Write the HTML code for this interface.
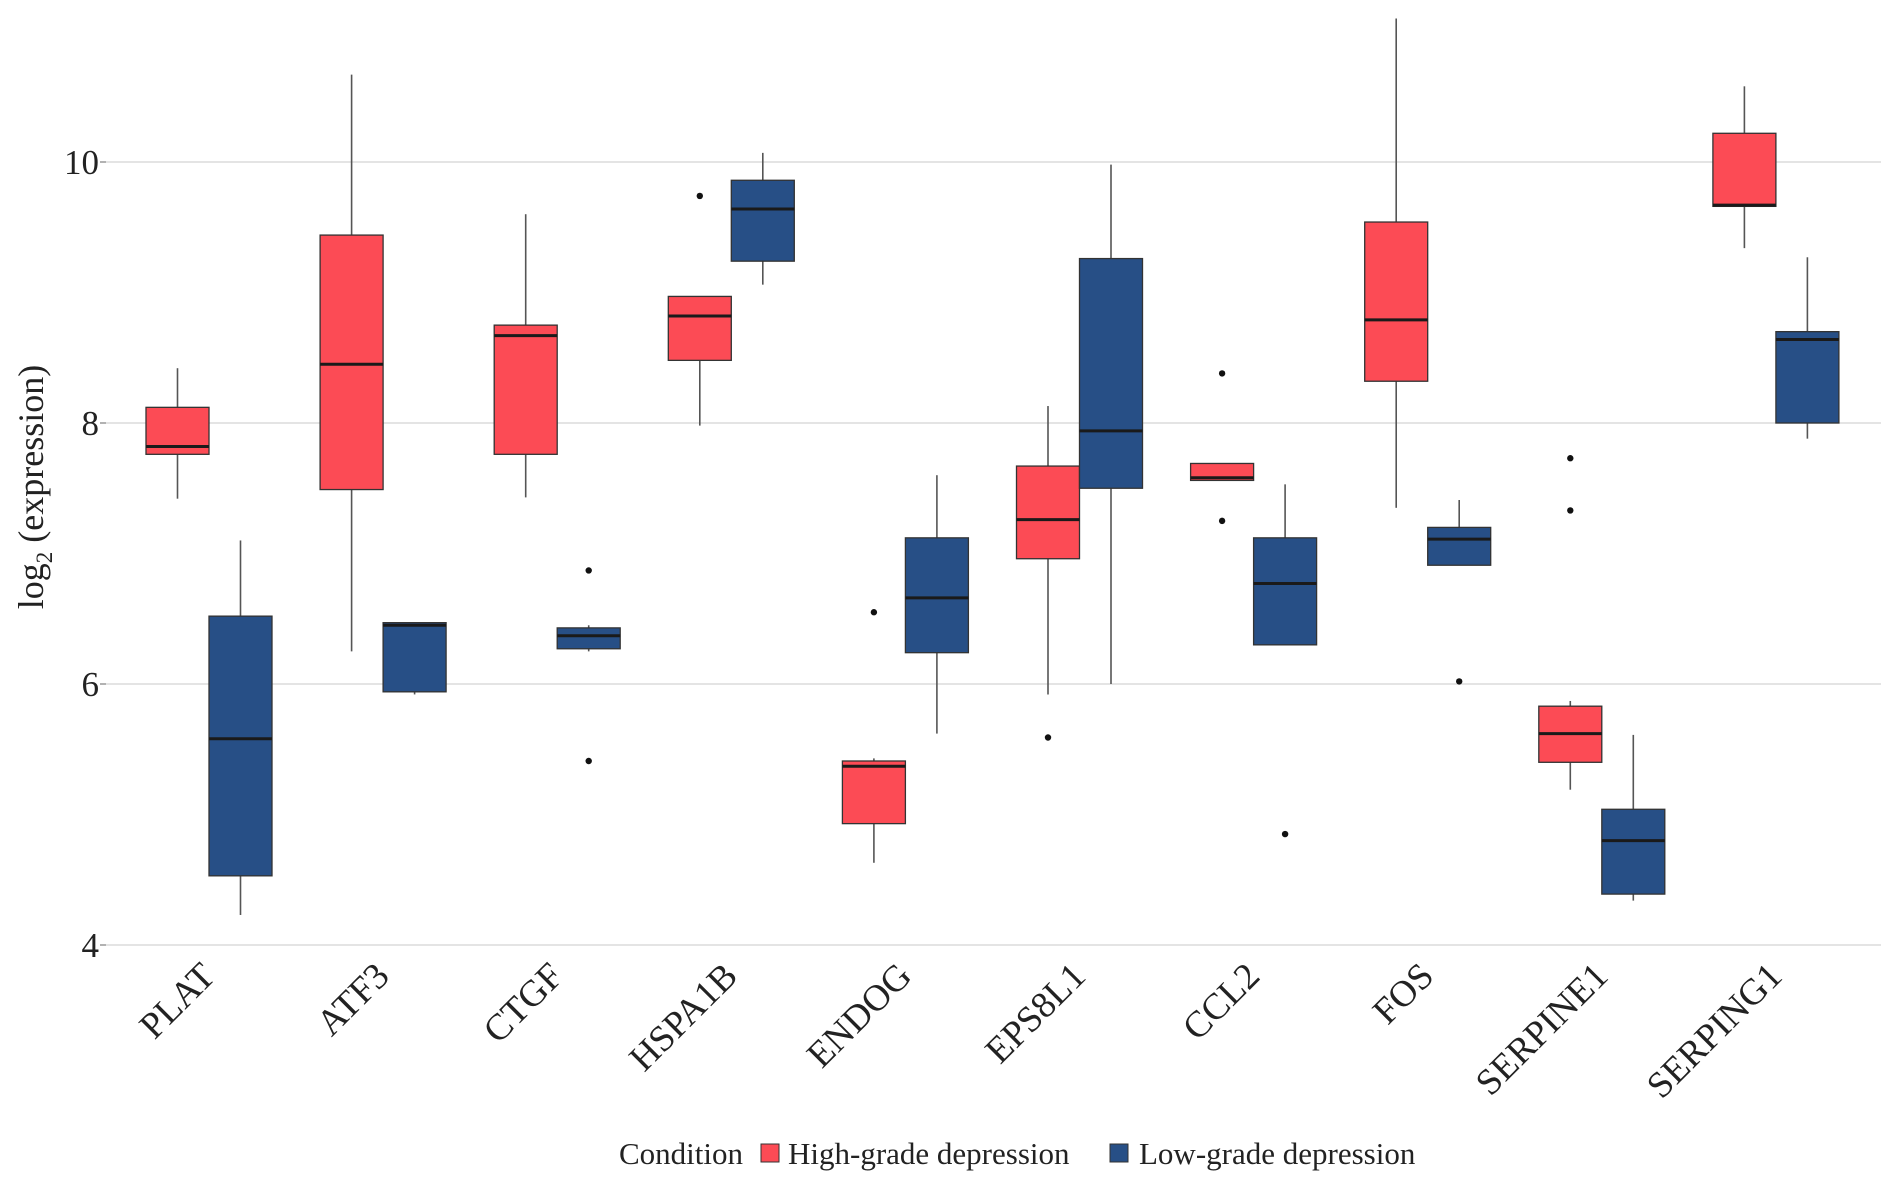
<!DOCTYPE html>
<html><head><meta charset="utf-8"><style>
html,body{margin:0;padding:0;background:#fff}
svg{display:block;font-family:"Liberation Serif",serif}
</style></head><body>
<svg id="chart" width="1890" height="1182"></svg>
<script>
const categories=["PLAT","ATF3","CTGF","HSPA1B","ENDOG","EPS8L1","CCL2","FOS","SERPINE1","SERPING1"];
const series=["High-grade depression","Low-grade depression"];
// [lowWhisker, Q1, median, Q3, highWhisker]
const highStats=[[7.42,7.76,7.82,8.12,8.42],[6.25,7.49,8.45,9.44,10.67],[7.43,7.76,8.67,8.75,9.60],[7.98,8.48,8.82,8.97,8.97],[4.63,4.93,5.37,5.41,5.43],[5.92,6.96,7.26,7.67,8.13],[7.56,7.56,7.58,7.69,7.69],[7.35,8.32,8.79,9.54,11.10],[5.19,5.40,5.62,5.83,5.87],[9.34,9.66,9.67,10.22,10.58]];
const lowStats=[[4.23,4.53,5.58,6.52,7.10],[5.92,5.94,6.45,6.47,6.47],[6.25,6.27,6.37,6.43,6.45],[9.06,9.24,9.64,9.86,10.07],[5.62,6.24,6.66,7.12,7.60],[6.00,7.50,7.94,9.26,9.98],[6.30,6.30,6.77,7.12,7.53],[6.91,6.91,7.11,7.20,7.41],[4.34,4.39,4.80,5.04,5.61],[7.88,8.00,8.64,8.70,9.27]];
const highOutliers=[[],[],[],[9.74],[6.55],[5.59],[8.38,7.25],[],[7.73,7.33],[]];
const lowOutliers=[[],[],[6.87,5.41],[],[],[],[4.85],[6.02],[],[]];
const yTicks=[4,6,8,10];
const colors=["#fc4b55","#274f86"];

const svg=document.getElementById('chart');
const NS="http://www.w3.org/2000/svg";
function el(t,a,p){const e=document.createElementNS(NS,t);for(const k in a)e.setAttribute(k,a[k]);(p||svg).appendChild(e);return e;}
const y=v=>162+(10-v)*130.5;
const band=174.1;
const x=i=>209+i*band;
const boxW=63, off=31.5;

const grid=el('g',{});


yTicks.forEach(t=>{
  el('line',{x1:106,x2:1881,y1:y(t),y2:y(t),stroke:'#dcdcdc','stroke-width':1.6},grid);
  el('line',{x1:100,x2:106,y1:y(t),y2:y(t),stroke:'#999','stroke-width':1.5},grid);
  const tx=el('text',{x:99,y:y(t)+12,'text-anchor':'end','font-size':35,fill:'#222'});
  tx.textContent=t;
  
  
});
const yt=el('text',{transform:'translate(43,487) rotate(-90)','text-anchor':'middle','font-size':36,fill:'#222'});
yt.innerHTML='log<tspan font-size="23" dy="9">2</tspan><tspan dy="-9"> (expression)</tspan>';



function drawBox(cx,s,outs,col,name){
  const g=el('g',{});
  
  
  el('line',{x1:cx,x2:cx,y1:y(s[4]),y2:y(s[3]),stroke:'#555','stroke-width':1.6},g);
  el('line',{x1:cx,x2:cx,y1:y(s[1]),y2:y(s[0]),stroke:'#555','stroke-width':1.6},g);
  el('rect',{x:cx-boxW/2,y:y(s[3]),width:boxW,height:Math.max(1,y(s[1])-y(s[3])),fill:col,stroke:'#333','stroke-width':1.3},g);
  el('line',{x1:cx-boxW/2,x2:cx+boxW/2,y1:y(s[2]),y2:y(s[2]),stroke:'#1a1a1a','stroke-width':3},g);
  outs.forEach(o=>el('circle',{cx:cx,cy:y(o),r:3.2,fill:'#111'},g));
}
categories.forEach((c,i)=>{
  drawBox(x(i)-off,highStats[i],highOutliers[i],colors[0],'box-high-'+c.toLowerCase());
  drawBox(x(i)+off,lowStats[i],lowOutliers[i],colors[1],'box-low-'+c.toLowerCase());
  const t=el('text',{transform:`translate(${x(i)+8},978) rotate(-45)`,'text-anchor':'end','font-size':37,fill:'#222'});
  t.textContent=c;
  
  
});

const lg=el('g',{});


const lt=el('text',{x:619,y:1164,'font-size':31,fill:'#222'},lg);lt.textContent='Condition';
const k1=el('rect',{x:761,y:1144,width:18,height:18,fill:colors[0],stroke:'#333','stroke-width':1},lg);


const t1=el('text',{x:788,y:1164,'font-size':31,fill:'#222'},lg);t1.textContent=series[0];
const k2=el('rect',{x:1110,y:1144,width:18,height:18,fill:colors[1],stroke:'#333','stroke-width':1},lg);


const t2=el('text',{x:1139,y:1164,'font-size':31,fill:'#222'},lg);t2.textContent=series[1];
</script>
</body></html>
